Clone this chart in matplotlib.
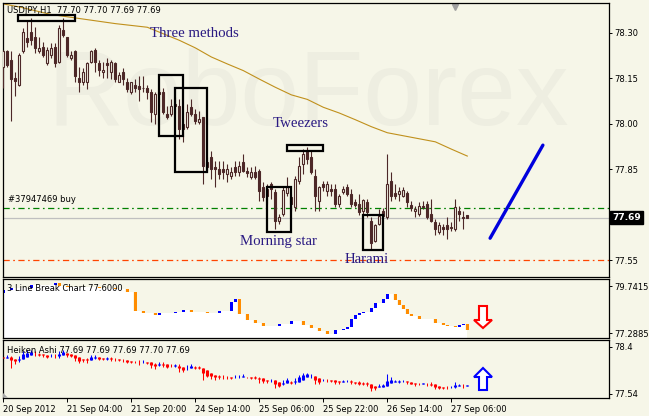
import numpy as np
import matplotlib
matplotlib.use("Agg")
import matplotlib.pyplot as plt
from matplotlib.patches import Rectangle, Polygon

# terminal colours
BG = "#f6f6e8"
CANDLE = "#4d2828"
BLUE = "#0000ff"
RED = "#ff0000"
ORANGE = "#ff8c00"

# USDJPY H1 candles, one per hour
opens = [78.188, 78.238, 78.211, 78.149, 78.129, 78.238, 78.283, 78.303, 78.287, 78.238,
         78.254, 78.201, 78.228, 78.254, 78.205, 78.310, 78.287, 78.218, 78.238, 78.152,
         78.139, 78.139, 78.205, 78.244, 78.201, 78.169, 78.200, 78.169, 78.201, 78.139,
         78.172, 78.139, 78.106, 78.129, 78.123, 78.119, 78.119, 78.103, 78.031, 78.103,
         78.103, 78.031, 78.031, 78.064, 78.057, 77.998, 77.988, 78.054, 78.031, 78.005,
         78.021, 77.857, 77.890, 77.857, 77.851, 77.851, 77.834, 77.828, 77.857, 77.841,
         77.874, 77.844, 77.824, 77.841, 77.844, 77.791, 77.762, 77.801, 77.775, 77.680,
         77.703, 77.772, 77.759, 77.726, 77.811, 77.867, 77.910, 77.890, 77.828, 77.746,
         77.801, 77.778, 77.785, 77.785, 77.736, 77.775, 77.791, 77.769, 77.742, 77.736,
         77.713, 77.742, 77.680, 77.614, 77.670, 77.713, 77.693, 77.811, 77.772, 77.769,
         77.762, 77.772, 77.733, 77.713, 77.703, 77.729, 77.736, 77.703, 77.674, 77.644,
         77.660, 77.664, 77.657, 77.654, 77.713, 77.693, 77.700]
highs = [78.244, 78.244, 78.238, 78.172, 78.234, 78.316, 78.343, 78.349, 78.319, 78.287,
         78.270, 78.254, 78.267, 78.267, 78.326, 78.349, 78.287, 78.238, 78.244, 78.188,
         78.185, 78.205, 78.244, 78.251, 78.211, 78.205, 78.218, 78.211, 78.205, 78.172,
         78.185, 78.152, 78.139, 78.146, 78.156, 78.156, 78.129, 78.113, 78.106, 78.119,
         78.119, 78.057, 78.080, 78.087, 78.080, 78.015, 78.064, 78.080, 78.047, 78.041,
         78.021, 77.890, 77.910, 77.877, 77.877, 77.877, 77.867, 77.857, 77.877, 77.877,
         77.900, 77.857, 77.857, 77.860, 77.851, 77.808, 77.801, 77.808, 77.785, 77.703,
         77.791, 77.824, 77.769, 77.828, 77.890, 77.916, 77.923, 77.910, 77.851, 77.795,
         77.811, 77.811, 77.801, 77.801, 77.769, 77.795, 77.801, 77.785, 77.752, 77.769,
         77.752, 77.752, 77.693, 77.670, 77.719, 77.723, 77.900, 77.841, 77.801, 77.791,
         77.791, 77.778, 77.746, 77.729, 77.742, 77.746, 77.746, 77.752, 77.687, 77.677,
         77.670, 77.693, 77.677, 77.752, 77.729, 77.713, 77.700]
lows = [78.119, 78.188, 78.008, 78.090, 78.123, 78.234, 78.254, 78.260, 78.234, 78.234,
        78.221, 78.195, 78.218, 78.188, 78.201, 78.287, 78.221, 78.211, 78.139, 78.106,
        78.129, 78.113, 78.201, 78.172, 78.156, 78.152, 78.152, 78.146, 78.139, 78.136,
        78.129, 78.106, 78.097, 78.106, 78.074, 78.103, 78.080, 78.005, 77.998, 78.054,
        78.031, 78.015, 78.024, 78.031, 77.949, 77.940, 77.982, 78.024, 77.998, 77.998,
        77.801, 77.844, 77.818, 77.791, 77.818, 77.818, 77.808, 77.818, 77.828, 77.828,
        77.841, 77.824, 77.818, 77.818, 77.746, 77.746, 77.736, 77.752, 77.654, 77.670,
        77.696, 77.762, 77.713, 77.713, 77.801, 77.834, 77.867, 77.834, 77.713, 77.713,
        77.778, 77.762, 77.762, 77.726, 77.726, 77.769, 77.762, 77.726, 77.726, 77.700,
        77.703, 77.693, 77.588, 77.608, 77.664, 77.693, 77.687, 77.746, 77.752, 77.746,
        77.759, 77.726, 77.713, 77.693, 77.696, 77.719, 77.687, 77.677, 77.631, 77.637,
        77.631, 77.621, 77.647, 77.647, 77.680, 77.654, 77.690]
closes = [78.238, 78.195, 78.146, 78.142, 78.228, 78.303, 78.270, 78.277, 78.251, 78.251,
          78.228, 78.244, 78.251, 78.201, 78.316, 78.293, 78.228, 78.228, 78.156, 78.139,
          78.172, 78.201, 78.238, 78.205, 78.178, 78.178, 78.195, 78.205, 78.146, 78.162,
          78.146, 78.113, 78.136, 78.119, 78.113, 78.116, 78.106, 78.038, 78.097, 78.097,
          78.038, 78.021, 78.057, 78.057, 77.982, 77.982, 78.038, 78.031, 78.008, 78.015,
          77.860, 77.874, 77.851, 77.851, 77.834, 77.841, 77.851, 77.841, 77.841, 77.860,
          77.844, 77.838, 77.841, 77.824, 77.778, 77.759, 77.785, 77.785, 77.680, 77.693,
          77.782, 77.791, 77.736, 77.818, 77.860, 77.900, 77.883, 77.841, 77.762, 77.791,
          77.791, 77.801, 77.778, 77.736, 77.762, 77.785, 77.769, 77.736, 77.733, 77.710,
          77.749, 77.710, 77.605, 77.664, 77.696, 77.696, 77.801, 77.762, 77.762, 77.778,
          77.782, 77.742, 77.723, 77.719, 77.729, 77.726, 77.693, 77.680, 77.654, 77.664,
          77.654, 77.654, 77.660, 77.726, 77.703, 77.690, 77.690]

# moving average (read at a few bars)
ma_bars = [0, 4, 12, 20, 28, 36, 44, 48, 52, 56, 60, 64, 68, 72, 76, 80, 84, 88,
           92, 96, 100, 104, 108, 112, 116]
ma_vals = [78.395, 78.385, 78.360, 78.345, 78.330, 78.318, 78.275, 78.250, 78.220,
           78.197, 78.175, 78.147, 78.120, 78.095, 78.080, 78.054, 78.035, 78.013,
           77.990, 77.970, 77.960, 77.950, 77.940, 77.916, 77.893]

# 3 line break: starting level, then bars where a new brick appears
lb_first = 79.376
lb_bars = [0, 2, 7, 13, 14, 16, 24, 28, 31, 33, 35, 38, 39, 43, 45, 47, 49, 51, 54, 57,
           58, 59, 61, 63, 65, 67, 69, 72, 75, 77, 79, 81, 83, 85, 86, 87, 88, 89, 90, 92,
           93, 95, 96, 98, 99, 100, 101, 102, 104, 108, 110, 111, 113, 114, 115, 116]
lb_levels = [79.507, 79.637, 79.768, 79.898, 79.742, 79.689, 79.637, 79.585, 79.428, 78.437,
             78.358, 78.228, 78.358, 78.410, 78.463, 78.410, 78.384, 78.332, 78.437, 78.906,
             79.089, 78.280, 77.967, 77.810, 77.680, 77.628, 77.784, 77.889, 77.706, 77.550,
             77.393, 77.262, 77.445, 77.523, 77.602, 78.045, 78.228, 78.358, 78.410, 78.593,
             78.880, 79.063, 79.350, 78.985, 78.750, 78.541, 78.280, 78.150, 78.019, 77.810,
             77.706, 77.654, 77.576, 77.706, 77.784, 77.445]

# axis labels
tick_bars = [0, 16, 32, 48, 64, 80, 96, 112]
tick_labels = ["20 Sep 2012", "21 Sep 04:00", "21 Sep 20:00", "24 Sep 14:00",
               "25 Sep 06:00", "25 Sep 22:00", "26 Sep 14:00", "27 Sep 06:00"]
main_ticks = [77.55, 77.85, 78.00, 78.15, 78.30]
order_price = 77.722
stop_price = 77.55

# pattern boxes: (bar from, bar to, price low, price high)
boxes = [(3.75, 18.0, 78.339, 78.359),
         (38.8, 45.0, 77.959, 78.162),
         (43.0, 51.0, 77.841, 78.119),
         (71.0, 80.0, 77.910, 77.929),
         (66.0, 72.0, 77.644, 77.792),
         (90.0, 95.0, 77.582, 77.700)]
pattern_names = ["Three methods", "Tweezers", "Morning star", "Harami"]
pattern_pos = [(36.7, 78.297), (67.4, 78.002), (59.2, 77.610), (85.4, 77.551)]
trend_x = [121.7, 134.9]
trend_y = [77.622, 77.929]

plt.rcParams["font.family"] = "DejaVu Sans"
plt.rcParams["lines.scale_dashes"] = False

o = np.array(opens)
h = np.array(highs)
l = np.array(lows)
c = np.array(closes)
n = len(c)
x = np.arange(n)

W, H = 649, 416
fig = plt.figure(figsize=(W / 100, H / 100), dpi=100, facecolor=BG)


def add_panel(top, bottom):
    ax = fig.add_axes([2.5 / W, 1 - bottom / H, 606 / W, (bottom - top) / H])
    ax.set_facecolor(BG)
    for s in ax.spines.values():
        s.set_linewidth(0.9)
        s.set_color("black")
    ax.set_xlim(-0.2, 151.3)
    ax.yaxis.tick_right()
    ax.tick_params(axis="y", length=2.5, width=0.7, labelsize=6, pad=2)
    ax.set_xticks([])
    return ax


ax1 = add_panel(2.7, 277)
ax2 = add_panel(279, 338.3)
ax3 = add_panel(340.3, 397.7)

# ---- main chart ----
ax1.set_ylim(77.494, 78.399)
ax1.text(0.0734, 0.554, "RoboForex", transform=ax1.transAxes, fontsize=76,
         family="Liberation Sans", color="#eeeee1", va="baseline", zorder=0)

ax1.plot(ma_bars, ma_vals, color="#c0901c", lw=0.8, zorder=2)
ax1.axhline(order_price, color="#008000", lw=0.9, ls=(0, (4.5, 2.5, 1.2, 2.5)), zorder=2)
ax1.axhline(c[-1], color="#c0c0c0", lw=0.9, zorder=1)
ax1.axhline(stop_price, color="#ff4500", lw=0.9, ls=(0, (4.5, 2.5, 1.2, 2.5)), zorder=2)

up = c >= o
body_lo = np.minimum(o, c)
body_h = np.maximum(np.abs(c - o), 0.002)
ax1.vlines(x, l, h, color=CANDLE, lw=0.8, zorder=3)
ax1.bar(x[up], body_h[up], bottom=body_lo[up], width=0.55, facecolor=BG,
        edgecolor=CANDLE, lw=0.8, zorder=4)
ax1.bar(x[~up], body_h[~up], bottom=body_lo[~up], width=0.55, facecolor=CANDLE,
        edgecolor=CANDLE, lw=0.8, zorder=4)

for x0, x1, y0, y1 in boxes:
    ax1.add_patch(Rectangle((x0, y0), x1 - x0, y1 - y0, fill=False, ec="black",
                            lw=1.6, zorder=5))
for name, (px, py) in zip(pattern_names, pattern_pos):
    ax1.text(px, py, name, family="Liberation Serif", fontsize=10.7,
             color="#2a1a82", va="center", ha="left", zorder=6)

ax1.plot(trend_x, trend_y, color="#0000dd", lw=2.4, solid_capstyle="round", zorder=6)

ax1.text(1.2, order_price + 0.012, "#37947469 buy", fontsize=6, va="bottom", zorder=6)
ax1.text(0.0074, 0.97, f"USDJPY,H1  {o[-1]:.2f} {h[-1]:.2f} {l[-1]:.2f} {c[-1]:.2f}",
         transform=ax1.transAxes, fontsize=6, va="center", zorder=6)
ax1.plot([0.7465], [0.985], marker="v", color="#a0a0a0", ms=4,
         transform=ax1.transAxes, clip_on=False)

ax1.set_yticks(main_ticks)
ax1.set_yticklabels([f"{v:.2f}" for v in main_ticks])
ax1.text(1.006, c[-1], f"{c[-1]:.2f}", transform=ax1.get_yaxis_transform(),
         fontsize=6.5, color="white", fontweight="bold", va="center", ha="left",
         bbox=dict(boxstyle="square,pad=0.2", fc="black", ec="black"), zorder=7)

# ---- 3 line break ----
lb_lo, lb_hi = 77.012, 80.107
ax2.set_ylim(lb_lo, lb_hi)
level = np.empty(n)
prev = np.empty(n)
cur = lb_first
events = dict(zip(lb_bars, lb_levels))
for i in range(n):
    prev[i] = cur
    cur = events.get(i, cur)
    level[i] = cur
white_top = np.minimum(prev, level)
ax2.fill_between(x, lb_lo, white_top, step="mid", color="white", lw=0, zorder=1)
changed = level != prev
cols = np.where(level > prev, BLUE, ORANGE)
ax2.bar(x[changed], np.abs(level - prev)[changed], bottom=white_top[changed],
        width=0.8, color=cols[changed], lw=0, zorder=2)
ax2.set_yticks([77.2885, 79.7415])
ax2.set_yticklabels(["77.2885", "79.7415"])
ax2.text(0.0074, 0.84, "3 Line Break Chart 77.6000", transform=ax2.transAxes,
         fontsize=6, va="center", zorder=5)

# ---- Heiken Ashi ----
ha_c = (o + h + l + c) / 4
ha_o = np.empty(n)
ha_o[0] = (o[0] + c[0]) / 2
for i in range(1, n):
    ha_o[i] = (ha_o[i - 1] + ha_c[i - 1]) / 2
ha_h = np.maximum(h, np.maximum(ha_o, ha_c))
ha_l = np.minimum(l, np.minimum(ha_o, ha_c))
ha_col = np.where(ha_c >= ha_o, BLUE, RED)
ax3.set_ylim(77.47, 78.52)
ax3.vlines(x, ha_l, ha_h, colors=ha_col, lw=0.75, zorder=2)
ax3.vlines(x, ha_o, ha_c, colors=ha_col, lw=2.2, zorder=3)
ax3.set_yticks([77.54, 78.4])
ax3.set_yticklabels(["77.54", "78.4"])
ax3.text(0.0074, 0.814, "Heiken Ashi 77.69 77.69 77.69 77.70 77.69",
         transform=ax3.transAxes, fontsize=6, va="center", zorder=5)
ax3.add_patch(Polygon([(0.0, 0.0), (0.009, 0.0), (0.0, 0.09)], closed=True,
                      transform=ax3.transAxes, color="#a8a8a8", lw=0, zorder=4))

ax3.set_xticks(tick_bars)
ax3.set_xticklabels(tick_labels, ha="left")
ax3.tick_params(axis="x", length=3, width=0.7, labelsize=6, pad=2)


def hollow_arrow(cx, y_base, y_tip, head, color):
    d = 1 if y_tip > y_base else -1
    yh = y_tip - d * head
    pts = [(cx - 4, y_base), (cx + 4, y_base), (cx + 4, yh), (cx + 9, yh),
           (cx, y_tip), (cx - 9, yh), (cx - 4, yh)]
    pts = [(px / W, 1 - py / H) for px, py in pts]
    fig.patches.append(Polygon(pts, closed=True, transform=fig.transFigure,
                               fc="white", ec=color, lw=1.5, zorder=10))


hollow_arrow(483, 306, 328, 8, RED)
hollow_arrow(483, 390, 368, 9, BLUE)

fig.savefig("out.png", dpi=100, facecolor=BG)
